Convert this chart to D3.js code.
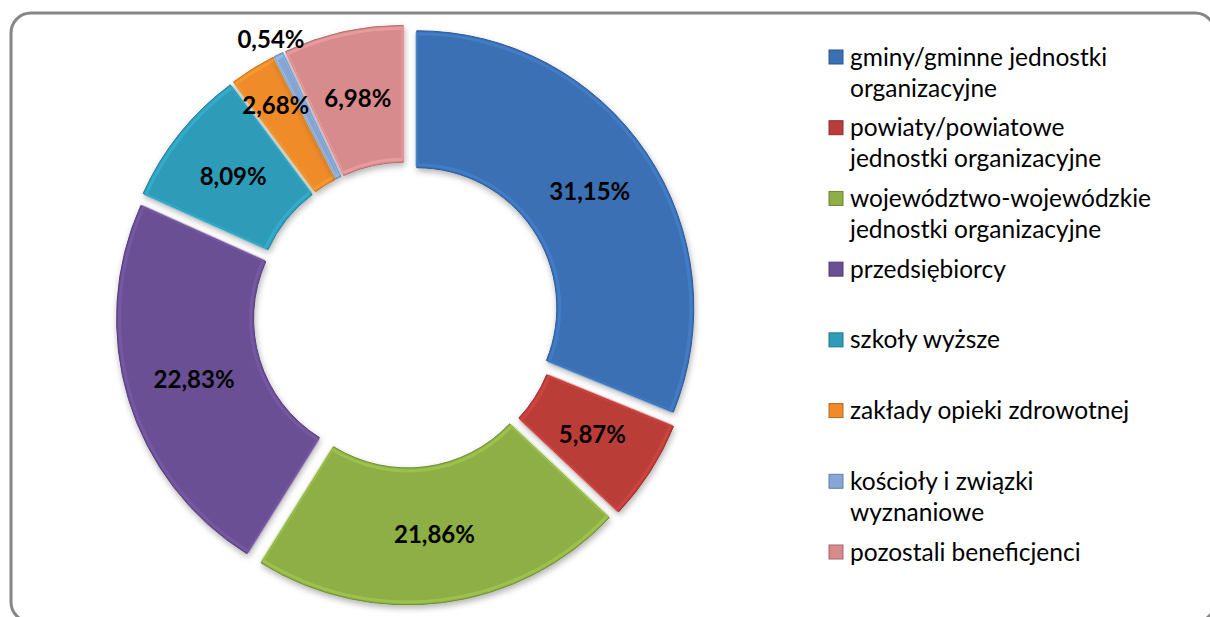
<!DOCTYPE html>
<html>
<head>
<meta charset="utf-8">
<script src="https://cdn.jsdelivr.net/npm/d3@7"></script>
<style>
  body { margin: 0; background: #fff; }
  svg { display: block; }
</style>
</head>
<body>
<div id="chart"></div>
<script>
// beneficiaries share
var categories = [
    "gminy/gminne jednostki\norganizacyjne",
    "powiaty/powiatowe\njednostki organizacyjne",
    "województwo-wojewódzkie\njednostki organizacyjne",
    "przedsiębiorcy",
    "szkoły wyższe",
    "zakłady opieki zdrowotnej",
    "kościoły i związki\nwyznaniowe",
    "pozostali beneficjenci"
];
var shares = [31.15, 5.87, 21.86, 22.83, 8.09, 2.68, 0.54, 6.98];
var colors = ["#3a70b4", "#bb3d39", "#8daf45", "#6b4f94", "#2f9cb8", "#f08b2a", "#86a7d6", "#d88b8d"];

var W = 1210, H = 617;
var cx = 406, cy = 315;
var R = 277, r = 140, explode = 13;

var svg = d3.select("#chart").append("svg")
    .attr("width", W).attr("height", H);

var defs = svg.append("defs");
var shadow = defs.append("filter").attr("id", "shadow")
    .attr("x", "-20%").attr("y", "-20%").attr("width", "140%").attr("height", "140%");
shadow.append("feDropShadow")
    .attr("dx", 1).attr("dy", 3).attr("stdDeviation", 3)
    .attr("flood-color", "#000").attr("flood-opacity", 0.3);

svg.append("rect")
    .attr("x", 11).attr("y", 13)
    .attr("width", 1204).attr("height", 609)
    .attr("rx", 20)
    .attr("fill", "#fff")
    .attr("stroke", "#868686")
    .attr("stroke-width", 3);

var pie = d3.pie().sort(null).value(function(d) { return d; });
var arcs = pie(shares);

var arc = d3.arc().innerRadius(r).outerRadius(R);
var innerArc = d3.arc().innerRadius(r + 3).outerRadius(R - 3);

var pl = d3.formatLocale({decimal: ",", thousands: " ", grouping: [3], currency: ["", " zł"]});
var fmt = pl.format(".2f");

var chart = svg.append("g").attr("transform", "translate(" + cx + "," + cy + ")");

function dir(d) {
    var m = (d.startAngle + d.endAngle) / 2;
    return [Math.sin(m), -Math.cos(m)];
}

var slices = chart.selectAll("g.slice")
    .data(arcs)
    .enter().append("g")
    .attr("class", "slice")
    .attr("transform", function(d) {
        var v = dir(d);
        return "translate(" + v[0] * explode + "," + v[1] * explode + ")";
    });

slices.append("path")
    .attr("d", arc)
    .attr("fill", function(d, i) { return colors[i]; })
    .attr("stroke", function(d, i) { return d3.color(colors[i]).darker(0.6); })
    .attr("stroke-width", 1)
    .attr("filter", "url(#shadow)");

// soft bevel highlight
slices.append("path")
    .attr("d", innerArc)
    .attr("fill", "none")
    .attr("stroke", function(d, i) { return d3.color(colors[i]).brighter(0.6); })
    .attr("stroke-opacity", 0.45)
    .attr("stroke-width", 3);

chart.selectAll("text.lbl")
    .data(arcs)
    .enter().append("text")
    .attr("class", "lbl")
    .attr("transform", function(d) {
        var v = dir(d);
        var share = d.data;
        var rr = (R + r) / 2 + explode;
        if (share < 1) rr = R + 30;
        else if (share < 3) rr = R * 0.89;
        return "translate(" + v[0] * rr + "," + v[1] * rr + ")";
    })
    .attr("text-anchor", "middle")
    .attr("dy", "0.35em")
    .style("font-family", "Lato, 'Open Sans', sans-serif")
    .style("font-weight", "bold")
    .style("font-size", "24px")
    .attr("fill", "#000")
    .text(function(d) { return fmt(d.data) + "%"; });

// legend
var ly = d3.scalePoint().domain(categories).range([57, 552]);
var legend = svg.selectAll("g.leg")
    .data(categories)
    .enter().append("g")
    .attr("class", "leg")
    .attr("transform", function(d) { return "translate(829," + ly(d) + ")"; });

legend.append("rect")
    .attr("x", 0).attr("y", -7)
    .attr("width", 14).attr("height", 14)
    .attr("fill", function(d, i) { return colors[i]; })
    .attr("stroke", function(d, i) { return d3.color(colors[i]).darker(0.8); })
    .attr("stroke-width", 1);

legend.append("text")
    .attr("x", 21)
    .attr("y", 0)
    .style("font-family", "Lato, 'Open Sans', sans-serif")
    .style("font-size", "24.5px")
    .attr("fill", "#000")
    .each(function(d) {
        var t = d3.select(this);
        d.split("\n").forEach(function(line, k) {
            t.append("tspan")
                .attr("x", 21)
                .attr("dy", k === 0 ? "0.35em" : "31px")
                .text(line);
        });
    });
</script>
</body>
</html>
